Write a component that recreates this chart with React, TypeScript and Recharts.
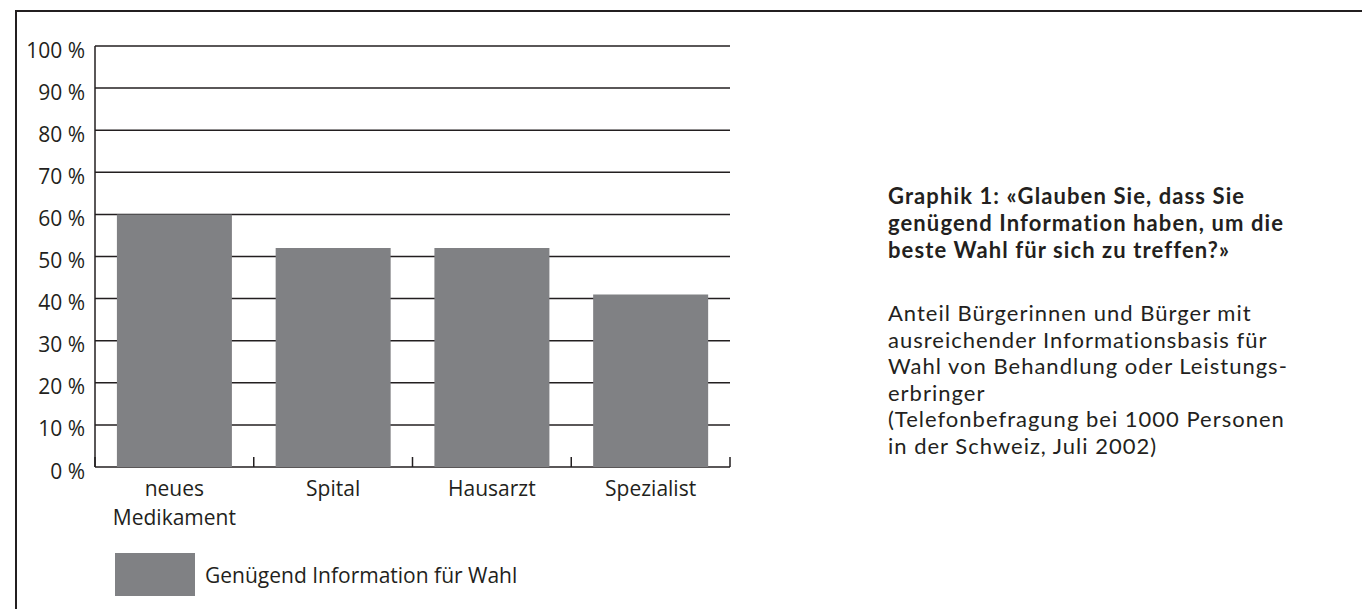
import React from 'react';
import { BarChart, Bar, XAxis, YAxis, CartesianGrid, Legend } from 'recharts';

const categories = ['neues\nMedikament', 'Spital', 'Hausarzt', 'Spezialist'];
const values = [60, 52, 52, 41];
const yTicks = [0, 10, 20, 30, 40, 50, 60, 70, 80, 90, 100];
const seriesName = 'Genügend Information für Wahl';

const titleLines = [
    'Graphik 1: «Glauben Sie, dass Sie',
    'genügend Information haben, um die',
    'beste Wahl für sich zu treffen?»',
];
const noteLines = [
    'Anteil Bürgerinnen und Bürger mit',
    'ausreichender Informationsbasis für',
    'Wahl von Behandlung oder Leistungs-',
    'erbringer',
    '(Telefonbefragung bei 1000 Personen',
    'in der Schweiz, Juli 2002)',
];

const INK = '#231f20';
const BAR = '#808184';
const FONT = '"Open Sans", sans-serif';
const SIDE_FONT = 'Lato, "Open Sans", sans-serif';
const FS = 21;

const data = categories.map((name, i) => ({ name, value: values[i] }));

// category label plus a small upward tick at the right edge of each band
const CategoryTick = (props: any) => {
    const { x, y, payload, width, visibleTicksCount, index } = props;
    const band = width && visibleTicksCount ? width / visibleTicksCount : 0;
    const lines = String(payload.value).split('\n');
    return (
        <g>
            {band > 0 && (
                <line x1={x + band / 2} x2={x + band / 2} y1={y} y2={y - 10} stroke={INK} strokeWidth={1.5} />
            )}
            {band > 0 && index === 0 && (
                <line x1={x - band / 2} x2={x - band / 2} y1={y} y2={y - 10} stroke={INK} strokeWidth={1.5} />
            )}
            <text x={x} y={y + 29} textAnchor="middle" fontSize={FS} fontFamily={FONT} fill={INK}>
                {lines.map((l, i) => (
                    <tspan key={i} x={x} dy={i === 0 ? 0 : 29}>{l}</tspan>
                ))}
            </text>
        </g>
    );
};

const PercentTick = (props: any) => {
    const { x, y, payload } = props;
    return (
        <text x={x} y={y} dy={11.5} textAnchor="end" fontSize={FS} fontFamily={FONT} fill={INK}>
            {`${payload.value} %`}
        </text>
    );
};

const LegendBox = () => (
    <div style={{ display: 'flex', alignItems: 'center', fontFamily: FONT, fontSize: FS, color: INK, whiteSpace: 'nowrap' }}>
        <div style={{ width: 80, height: 43, background: BAR }} />
        <span style={{ marginLeft: 10 }}>{seriesName}</span>
    </div>
);

const App: React.FC = () => {
    return (
        <div style={{ position: 'absolute', left: 0, top: 0, width: 1362, height: 609, overflow: 'hidden', background: '#fff' }}>
            <div
                style={{
                    position: 'absolute',
                    left: 15,
                    top: 10,
                    width: 1400,
                    height: 700,
                    borderTop: `2px solid ${INK}`,
                    borderLeft: `2px solid ${INK}`,
                }}
            />
            <div style={{ position: 'absolute', left: 0, top: 0 }}>
                <BarChart
                    width={760}
                    height={609}
                    data={data}
                    margin={{ top: 46, right: 30, bottom: 82, left: 0 }}
                    barCategoryGap="13.8%"
                >
                    <CartesianGrid vertical={false} stroke={INK} strokeWidth={1.5} />
                    <XAxis
                        dataKey="name"
                        axisLine={false}
                        tickLine={false}
                        tickSize={0}
                        tickMargin={0}
                        height={60}
                        interval={0}
                        tick={<CategoryTick />}
                    />
                    <YAxis
                        domain={[0, 100]}
                        ticks={yTicks}
                        width={95}
                        axisLine={{ stroke: INK, strokeWidth: 1.5 }}
                        tickLine={false}
                        tickSize={0}
                        tickMargin={10}
                        interval={0}
                        tick={<PercentTick />}
                    />
                    <Legend
                        verticalAlign="middle"
                        layout="horizontal"
                        wrapperStyle={{ left: 115, top: 553, width: 'auto' }}
                        content={<LegendBox />}
                    />
                    <Bar dataKey="value" name={seriesName} fill={BAR} isAnimationActive={false} />
                </BarChart>
            </div>
            <div style={{ position: 'absolute', left: 888, top: 182, fontFamily: SIDE_FONT, color: INK, whiteSpace: 'nowrap' }}>
                {titleLines.map((l, i) => (
                    <div key={`t-${i}`} style={{ fontWeight: 700, fontSize: 22, lineHeight: '27px', letterSpacing: '1.1px' }}>{l}</div>
                ))}
                <div style={{ height: 37 }} />
                {noteLines.map((l, i) => (
                    <div key={`n-${i}`} style={{ fontSize: 22, lineHeight: '26.6px', letterSpacing: '1px' }}>{l}</div>
                ))}
            </div>
        </div>
    );
};

export default App;
